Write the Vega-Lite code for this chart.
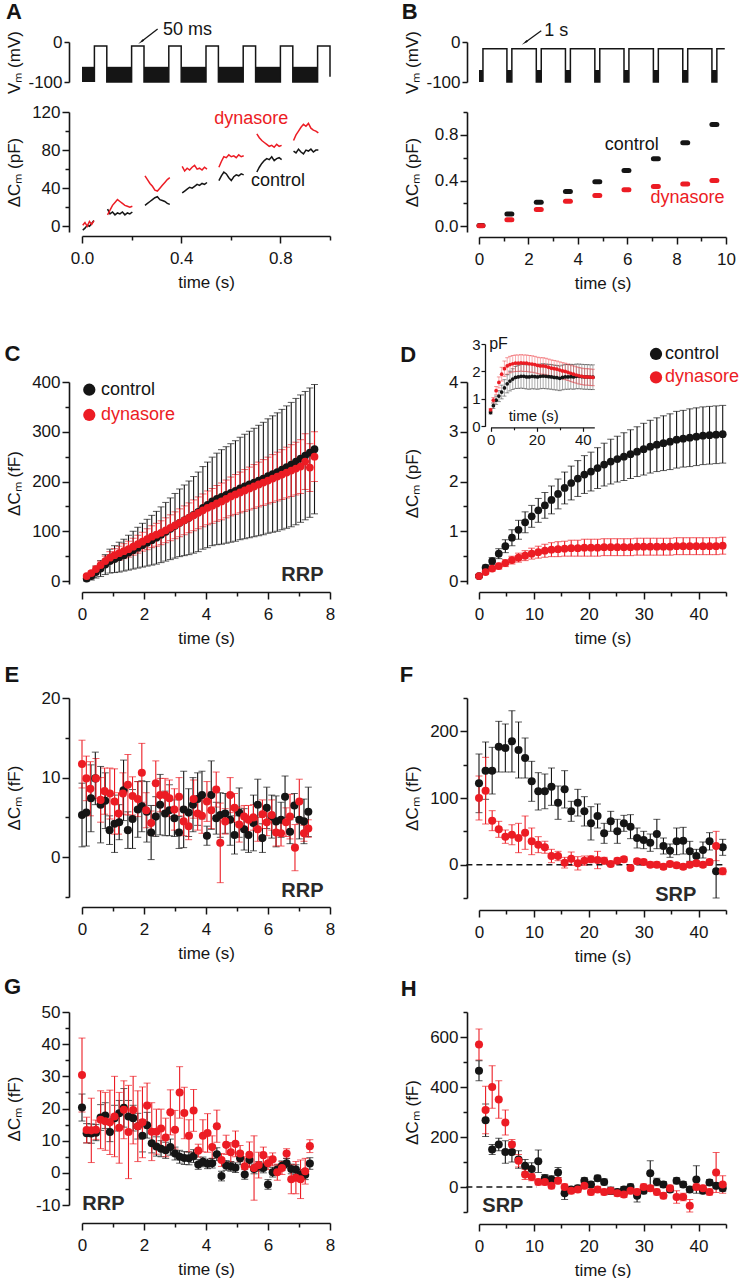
{
"$schema":"https://vega.github.io/schema/vega-lite/v6.json",
"padding":{"left":4,"top":0,"right":0,"bottom":0},
"bounds":"flush",
"align":"each",
"columns":2,
"spacing":{"row":114,"column":149},
"config":{
 "view":{"stroke":null},
 "font":"Liberation Sans",
 "text":{"font":"Liberation Sans","color":"#151515"},
 "axis":{"domainColor":"#151515","domainWidth":1.6,"tickColor":"#151515","tickWidth":1.5,"labelFont":"Liberation Sans","labelFontSize":17,"labelColor":"#151515","labelPadding":2,"titleFont":"Liberation Sans","titleFontSize":17,"titleFontWeight":"normal","titleColor":"#151515","grid":false,"labelOverlap":false,"labelFlush":false,"labelBound":false},
 "axisX":{"labelPadding":7,"titleY":46,"titleBaseline":"middle","labelOverlap":false},
 "axisY":{"titleX":-55,"titleBaseline":"middle","labelOverlap":false}
},
"datasets":{
 "vAr":[{"t0":0,"t1":0.05,"v0":-62,"v1":-100},{"t0":0.1,"t1":0.2,"v0":-62,"v1":-100},{"t0":0.25,"t1":0.35,"v0":-62,"v1":-100},{"t0":0.4,"t1":0.5,"v0":-62,"v1":-100},{"t0":0.55,"t1":0.65,"v0":-62,"v1":-100},{"t0":0.7,"t1":0.8,"v0":-62,"v1":-100},{"t0":0.85,"t1":0.95,"v0":-62,"v1":-100}],
 "vAl":[{"i":0,"t":0.05,"v":-100},{"i":1,"t":0.05,"v":-10},{"i":2,"t":0.1,"v":-10},{"i":3,"t":0.1,"v":-100},{"i":4,"t":0.2,"v":-100},{"i":5,"t":0.2,"v":-10},{"i":6,"t":0.25,"v":-10},{"i":7,"t":0.25,"v":-100},{"i":8,"t":0.35,"v":-100},{"i":9,"t":0.35,"v":-10},{"i":10,"t":0.4,"v":-10},{"i":11,"t":0.4,"v":-100},{"i":12,"t":0.5,"v":-100},{"i":13,"t":0.5,"v":-10},{"i":14,"t":0.55,"v":-10},{"i":15,"t":0.55,"v":-100},{"i":16,"t":0.65,"v":-100},{"i":17,"t":0.65,"v":-10},{"i":18,"t":0.7,"v":-10},{"i":19,"t":0.7,"v":-100},{"i":20,"t":0.8,"v":-100},{"i":21,"t":0.8,"v":-10},{"i":22,"t":0.85,"v":-10},{"i":23,"t":0.85,"v":-100},{"i":24,"t":0.95,"v":-100},{"i":25,"t":0.95,"v":-10},{"i":26,"t":1.0,"v":-10},{"i":27,"t":1.0,"v":-87}],
 "vBr":[{"t0":0,"t1":0.16,"v0":-70,"v1":-100},{"t0":1.13,"t1":1.33,"v0":-70,"v1":-100},{"t0":2.32,"t1":2.52,"v0":-70,"v1":-100},{"t0":3.5,"t1":3.7,"v0":-70,"v1":-100},{"t0":4.69,"t1":4.89,"v0":-70,"v1":-100},{"t0":5.87,"t1":6.07,"v0":-70,"v1":-100},{"t0":7.06,"t1":7.26,"v0":-70,"v1":-100},{"t0":8.25,"t1":8.45,"v0":-70,"v1":-100},{"t0":9.43,"t1":9.63,"v0":-70,"v1":-100}],
 "vBl":[{"i":0,"t":0.16,"v":-100},{"i":1,"t":0.16,"v":-17},{"i":2,"t":1.13,"v":-17},{"i":3,"t":1.13,"v":-100},{"i":4,"t":1.33,"v":-100},{"i":5,"t":1.33,"v":-17},{"i":6,"t":2.32,"v":-17},{"i":7,"t":2.32,"v":-100},{"i":8,"t":2.52,"v":-100},{"i":9,"t":2.52,"v":-17},{"i":10,"t":3.5,"v":-17},{"i":11,"t":3.5,"v":-100},{"i":12,"t":3.7,"v":-100},{"i":13,"t":3.7,"v":-17},{"i":14,"t":4.69,"v":-17},{"i":15,"t":4.69,"v":-100},{"i":16,"t":4.89,"v":-100},{"i":17,"t":4.89,"v":-17},{"i":18,"t":5.87,"v":-17},{"i":19,"t":5.87,"v":-100},{"i":20,"t":6.07,"v":-100},{"i":21,"t":6.07,"v":-17},{"i":22,"t":7.06,"v":-17},{"i":23,"t":7.06,"v":-100},{"i":24,"t":7.26,"v":-100},{"i":25,"t":7.26,"v":-17},{"i":26,"t":8.25,"v":-17},{"i":27,"t":8.25,"v":-100},{"i":28,"t":8.45,"v":-100},{"i":29,"t":8.45,"v":-17},{"i":30,"t":9.43,"v":-17},{"i":31,"t":9.43,"v":-100},{"i":32,"t":9.63,"v":-100},{"i":33,"t":9.63,"v":-17},{"i":34,"t":9.95,"v":-17}],
 "Acap":[
  {"g":"control","s":"c0","t":0.003,"v":-4},{"g":"control","s":"c0","t":0.012,"v":-2},{"g":"control","s":"c0","t":0.021,"v":1},{"g":"control","s":"c0","t":0.03,"v":0},{"g":"control","s":"c0","t":0.039,"v":3},{"g":"control","s":"c0","t":0.048,"v":6},
  {"g":"control","s":"c1","t":0.103,"v":18},{"g":"control","s":"c1","t":0.113,"v":13},{"g":"control","s":"c1","t":0.123,"v":15},{"g":"control","s":"c1","t":0.133,"v":12},{"g":"control","s":"c1","t":0.143,"v":14},{"g":"control","s":"c1","t":0.153,"v":13},{"g":"control","s":"c1","t":0.163,"v":15},{"g":"control","s":"c1","t":0.173,"v":12},{"g":"control","s":"c1","t":0.183,"v":14},{"g":"control","s":"c1","t":0.193,"v":13},{"g":"control","s":"c1","t":0.203,"v":15},
  {"g":"control","s":"c2","t":0.254,"v":22},{"g":"control","s":"c2","t":0.264,"v":24},{"g":"control","s":"c2","t":0.274,"v":26},{"g":"control","s":"c2","t":0.284,"v":28},{"g":"control","s":"c2","t":0.294,"v":30},{"g":"control","s":"c2","t":0.304,"v":31},{"g":"control","s":"c2","t":0.314,"v":28},{"g":"control","s":"c2","t":0.324,"v":27},{"g":"control","s":"c2","t":0.334,"v":26},{"g":"control","s":"c2","t":0.344,"v":24},{"g":"control","s":"c2","t":0.354,"v":23},
  {"g":"control","s":"c3","t":0.404,"v":35},{"g":"control","s":"c3","t":0.414,"v":37},{"g":"control","s":"c3","t":0.424,"v":39},{"g":"control","s":"c3","t":0.434,"v":41},{"g":"control","s":"c3","t":0.444,"v":40},{"g":"control","s":"c3","t":0.454,"v":42},{"g":"control","s":"c3","t":0.464,"v":44},{"g":"control","s":"c3","t":0.474,"v":43},{"g":"control","s":"c3","t":0.484,"v":45},{"g":"control","s":"c3","t":0.494,"v":44},{"g":"control","s":"c3","t":0.504,"v":46},
  {"g":"control","s":"c4","t":0.552,"v":48},{"g":"control","s":"c4","t":0.562,"v":53},{"g":"control","s":"c4","t":0.572,"v":57},{"g":"control","s":"c4","t":0.582,"v":55},{"g":"control","s":"c4","t":0.592,"v":51},{"g":"control","s":"c4","t":0.602,"v":48},{"g":"control","s":"c4","t":0.612,"v":52},{"g":"control","s":"c4","t":0.622,"v":54},{"g":"control","s":"c4","t":0.632,"v":53},{"g":"control","s":"c4","t":0.642,"v":55},{"g":"control","s":"c4","t":0.652,"v":54},
  {"g":"control","s":"c5","t":0.705,"v":57},{"g":"control","s":"c5","t":0.715,"v":62},{"g":"control","s":"c5","t":0.725,"v":66},{"g":"control","s":"c5","t":0.735,"v":69},{"g":"control","s":"c5","t":0.745,"v":71},{"g":"control","s":"c5","t":0.755,"v":70},{"g":"control","s":"c5","t":0.765,"v":73},{"g":"control","s":"c5","t":0.775,"v":69},{"g":"control","s":"c5","t":0.785,"v":71},{"g":"control","s":"c5","t":0.795,"v":72},{"g":"control","s":"c5","t":0.805,"v":70},
  {"g":"control","s":"c6","t":0.853,"v":79},{"g":"control","s":"c6","t":0.863,"v":77},{"g":"control","s":"c6","t":0.873,"v":81},{"g":"control","s":"c6","t":0.883,"v":78},{"g":"control","s":"c6","t":0.893,"v":76},{"g":"control","s":"c6","t":0.903,"v":80},{"g":"control","s":"c6","t":0.913,"v":79},{"g":"control","s":"c6","t":0.923,"v":81},{"g":"control","s":"c6","t":0.933,"v":78},{"g":"control","s":"c6","t":0.943,"v":80},{"g":"control","s":"c6","t":0.953,"v":80},
  {"g":"dynasore","s":"d0","t":0.003,"v":1},{"g":"dynasore","s":"d0","t":0.012,"v":4},{"g":"dynasore","s":"d0","t":0.021,"v":0},{"g":"dynasore","s":"d0","t":0.03,"v":5},{"g":"dynasore","s":"d0","t":0.039,"v":2},{"g":"dynasore","s":"d0","t":0.048,"v":6},
  {"g":"dynasore","s":"d1","t":0.103,"v":12},{"g":"dynasore","s":"d1","t":0.113,"v":17},{"g":"dynasore","s":"d1","t":0.123,"v":22},{"g":"dynasore","s":"d1","t":0.133,"v":25},{"g":"dynasore","s":"d1","t":0.143,"v":28},{"g":"dynasore","s":"d1","t":0.153,"v":26},{"g":"dynasore","s":"d1","t":0.163,"v":24},{"g":"dynasore","s":"d1","t":0.173,"v":22},{"g":"dynasore","s":"d1","t":0.183,"v":21},{"g":"dynasore","s":"d1","t":0.193,"v":20},{"g":"dynasore","s":"d1","t":0.203,"v":21},
  {"g":"dynasore","s":"d2","t":0.254,"v":53},{"g":"dynasore","s":"d2","t":0.264,"v":49},{"g":"dynasore","s":"d2","t":0.274,"v":45},{"g":"dynasore","s":"d2","t":0.284,"v":42},{"g":"dynasore","s":"d2","t":0.294,"v":38},{"g":"dynasore","s":"d2","t":0.304,"v":37},{"g":"dynasore","s":"d2","t":0.314,"v":40},{"g":"dynasore","s":"d2","t":0.324,"v":43},{"g":"dynasore","s":"d2","t":0.334,"v":46},{"g":"dynasore","s":"d2","t":0.344,"v":49},{"g":"dynasore","s":"d2","t":0.354,"v":51},
  {"g":"dynasore","s":"d3","t":0.404,"v":63},{"g":"dynasore","s":"d3","t":0.414,"v":58},{"g":"dynasore","s":"d3","t":0.424,"v":61},{"g":"dynasore","s":"d3","t":0.434,"v":59},{"g":"dynasore","s":"d3","t":0.444,"v":62},{"g":"dynasore","s":"d3","t":0.454,"v":64},{"g":"dynasore","s":"d3","t":0.464,"v":60},{"g":"dynasore","s":"d3","t":0.474,"v":61},{"g":"dynasore","s":"d3","t":0.484,"v":59},{"g":"dynasore","s":"d3","t":0.494,"v":62},{"g":"dynasore","s":"d3","t":0.504,"v":60},
  {"g":"dynasore","s":"d4","t":0.552,"v":62},{"g":"dynasore","s":"d4","t":0.562,"v":68},{"g":"dynasore","s":"d4","t":0.572,"v":73},{"g":"dynasore","s":"d4","t":0.582,"v":72},{"g":"dynasore","s":"d4","t":0.592,"v":75},{"g":"dynasore","s":"d4","t":0.602,"v":73},{"g":"dynasore","s":"d4","t":0.612,"v":74},{"g":"dynasore","s":"d4","t":0.622,"v":72},{"g":"dynasore","s":"d4","t":0.632,"v":75},{"g":"dynasore","s":"d4","t":0.642,"v":73},{"g":"dynasore","s":"d4","t":0.652,"v":74},
  {"g":"dynasore","s":"d5","t":0.705,"v":97},{"g":"dynasore","s":"d5","t":0.715,"v":93},{"g":"dynasore","s":"d5","t":0.725,"v":90},{"g":"dynasore","s":"d5","t":0.735,"v":88},{"g":"dynasore","s":"d5","t":0.745,"v":86},{"g":"dynasore","s":"d5","t":0.755,"v":84},{"g":"dynasore","s":"d5","t":0.765,"v":85},{"g":"dynasore","s":"d5","t":0.775,"v":83},{"g":"dynasore","s":"d5","t":0.785,"v":86},{"g":"dynasore","s":"d5","t":0.795,"v":84},{"g":"dynasore","s":"d5","t":0.805,"v":85},
  {"g":"dynasore","s":"d6","t":0.853,"v":90},{"g":"dynasore","s":"d6","t":0.863,"v":96},{"g":"dynasore","s":"d6","t":0.873,"v":100},{"g":"dynasore","s":"d6","t":0.883,"v":104},{"g":"dynasore","s":"d6","t":0.893,"v":107},{"g":"dynasore","s":"d6","t":0.903,"v":105},{"g":"dynasore","s":"d6","t":0.913,"v":108},{"g":"dynasore","s":"d6","t":0.923,"v":103},{"g":"dynasore","s":"d6","t":0.933,"v":101},{"g":"dynasore","s":"d6","t":0.943,"v":100},{"g":"dynasore","s":"d6","t":0.953,"v":98}
 ],
 "Bcap":[
  {"g":"control","t":0,"t2":0.16,"v":0.006},{"g":"control","t":1.13,"t2":1.33,"v":0.108},{"g":"control","t":2.32,"t2":2.52,"v":0.21},{"g":"control","t":3.5,"t2":3.7,"v":0.304},{"g":"control","t":4.69,"t2":4.89,"v":0.39},{"g":"control","t":5.87,"t2":6.07,"v":0.488},{"g":"control","t":7.06,"t2":7.26,"v":0.59},{"g":"control","t":8.25,"t2":8.45,"v":0.73},{"g":"control","t":9.43,"t2":9.63,"v":0.89},
  {"g":"dynasore","t":0,"t2":0.16,"v":0.005},{"g":"dynasore","t":1.13,"t2":1.33,"v":0.058},{"g":"dynasore","t":2.32,"t2":2.52,"v":0.146},{"g":"dynasore","t":3.5,"t2":3.7,"v":0.219},{"g":"dynasore","t":4.69,"t2":4.89,"v":0.27},{"g":"dynasore","t":5.87,"t2":6.07,"v":0.32},{"g":"dynasore","t":7.06,"t2":7.26,"v":0.348},{"g":"dynasore","t":8.25,"t2":8.45,"v":0.371},{"g":"dynasore","t":9.43,"t2":9.63,"v":0.4}
 ],
 "C":[
  {"g":"control","t":0.15,"v":5,"e":5},{"g":"control","t":0.3,"v":10,"e":8},{"g":"control","t":0.45,"v":18,"e":12},{"g":"control","t":0.6,"v":25,"e":16},{"g":"control","t":0.75,"v":33,"e":20},{"g":"control","t":0.9,"v":40,"e":24},{"g":"control","t":1.05,"v":44,"e":27},{"g":"control","t":1.2,"v":48,"e":30},{"g":"control","t":1.35,"v":52,"e":32},{"g":"control","t":1.5,"v":57,"e":35},{"g":"control","t":1.65,"v":62,"e":38},{"g":"control","t":1.8,"v":67,"e":41},{"g":"control","t":1.95,"v":72,"e":44},{"g":"control","t":2.1,"v":77,"e":47},{"g":"control","t":2.25,"v":82,"e":50},{"g":"control","t":2.4,"v":87,"e":53},{"g":"control","t":2.55,"v":93,"e":56},{"g":"control","t":2.7,"v":99,"e":59},{"g":"control","t":2.85,"v":105,"e":62},{"g":"control","t":3.0,"v":111,"e":65},{"g":"control","t":3.15,"v":117,"e":68},{"g":"control","t":3.3,"v":122,"e":71},{"g":"control","t":3.45,"v":127,"e":74},{"g":"control","t":3.6,"v":133,"e":77},{"g":"control","t":3.75,"v":139,"e":80},{"g":"control","t":3.9,"v":147,"e":83},{"g":"control","t":4.05,"v":153,"e":86},{"g":"control","t":4.2,"v":160,"e":89},{"g":"control","t":4.35,"v":165,"e":92},{"g":"control","t":4.5,"v":169,"e":95},{"g":"control","t":4.65,"v":173,"e":97},{"g":"control","t":4.8,"v":177,"e":99},{"g":"control","t":4.95,"v":181,"e":101},{"g":"control","t":5.1,"v":186,"e":103},{"g":"control","t":5.25,"v":190,"e":105},{"g":"control","t":5.4,"v":194,"e":107},{"g":"control","t":5.55,"v":198,"e":109},{"g":"control","t":5.7,"v":202,"e":111},{"g":"control","t":5.85,"v":206,"e":113},{"g":"control","t":6.0,"v":211,"e":115},{"g":"control","t":6.15,"v":215,"e":117},{"g":"control","t":6.3,"v":219,"e":119},{"g":"control","t":6.45,"v":224,"e":121},{"g":"control","t":6.6,"v":229,"e":123},{"g":"control","t":6.75,"v":234,"e":125},{"g":"control","t":6.9,"v":240,"e":127},{"g":"control","t":7.05,"v":246,"e":128},{"g":"control","t":7.2,"v":252,"e":129},{"g":"control","t":7.35,"v":258,"e":130},{"g":"control","t":7.5,"v":265,"e":130},
  {"g":"dynasore","t":0.15,"v":10,"e":3},{"g":"dynasore","t":0.3,"v":16,"e":4},{"g":"dynasore","t":0.45,"v":24,"e":6},{"g":"dynasore","t":0.6,"v":32,"e":8},{"g":"dynasore","t":0.75,"v":40,"e":10},{"g":"dynasore","t":0.9,"v":47,"e":12},{"g":"dynasore","t":1.05,"v":52,"e":13},{"g":"dynasore","t":1.2,"v":56,"e":14},{"g":"dynasore","t":1.35,"v":60,"e":15},{"g":"dynasore","t":1.5,"v":64,"e":16},{"g":"dynasore","t":1.65,"v":69,"e":17},{"g":"dynasore","t":1.8,"v":74,"e":18},{"g":"dynasore","t":1.95,"v":79,"e":19},{"g":"dynasore","t":2.1,"v":84,"e":21},{"g":"dynasore","t":2.25,"v":89,"e":22},{"g":"dynasore","t":2.4,"v":93,"e":23},{"g":"dynasore","t":2.55,"v":97,"e":24},{"g":"dynasore","t":2.7,"v":102,"e":25},{"g":"dynasore","t":2.85,"v":107,"e":26},{"g":"dynasore","t":3.0,"v":112,"e":27},{"g":"dynasore","t":3.15,"v":117,"e":28},{"g":"dynasore","t":3.3,"v":122,"e":29},{"g":"dynasore","t":3.45,"v":127,"e":30},{"g":"dynasore","t":3.6,"v":132,"e":31},{"g":"dynasore","t":3.75,"v":137,"e":32},{"g":"dynasore","t":3.9,"v":142,"e":33},{"g":"dynasore","t":4.05,"v":147,"e":34},{"g":"dynasore","t":4.2,"v":151,"e":35},{"g":"dynasore","t":4.35,"v":156,"e":36},{"g":"dynasore","t":4.5,"v":160,"e":37},{"g":"dynasore","t":4.65,"v":165,"e":38},{"g":"dynasore","t":4.8,"v":170,"e":39},{"g":"dynasore","t":4.95,"v":174,"e":40},{"g":"dynasore","t":5.1,"v":178,"e":41},{"g":"dynasore","t":5.25,"v":182,"e":42},{"g":"dynasore","t":5.4,"v":186,"e":43},{"g":"dynasore","t":5.55,"v":190,"e":44},{"g":"dynasore","t":5.7,"v":194,"e":45},{"g":"dynasore","t":5.85,"v":198,"e":46},{"g":"dynasore","t":6.0,"v":202,"e":47},{"g":"dynasore","t":6.15,"v":206,"e":48},{"g":"dynasore","t":6.3,"v":210,"e":49},{"g":"dynasore","t":6.45,"v":214,"e":50},{"g":"dynasore","t":6.6,"v":218,"e":51},{"g":"dynasore","t":6.75,"v":222,"e":52},{"g":"dynasore","t":6.9,"v":226,"e":53},{"g":"dynasore","t":7.05,"v":230,"e":54},{"g":"dynasore","t":7.2,"v":240,"e":56},{"g":"dynasore","t":7.35,"v":228,"e":48},{"g":"dynasore","t":7.5,"v":250,"e":50}
 ],
 "D":[
  {"g":"control","t":0,"v":0.10,"e":0.03},{"g":"control","t":1.2,"v":0.27,"e":0.05},{"g":"control","t":2.4,"v":0.40,"e":0.07},{"g":"control","t":3.6,"v":0.55,"e":0.1},{"g":"control","t":4.8,"v":0.70,"e":0.13},{"g":"control","t":6.0,"v":0.87,"e":0.16},{"g":"control","t":7.2,"v":1.03,"e":0.19},{"g":"control","t":8.4,"v":1.18,"e":0.21},{"g":"control","t":9.6,"v":1.30,"e":0.22},{"g":"control","t":10.8,"v":1.42,"e":0.24},{"g":"control","t":12.0,"v":1.52,"e":0.26},{"g":"control","t":13.2,"v":1.63,"e":0.28},{"g":"control","t":14.4,"v":1.75,"e":0.30},{"g":"control","t":15.6,"v":1.87,"e":0.32},{"g":"control","t":16.8,"v":1.97,"e":0.34},{"g":"control","t":18.0,"v":2.06,"e":0.36},{"g":"control","t":19.2,"v":2.14,"e":0.38},{"g":"control","t":20.4,"v":2.20,"e":0.39},{"g":"control","t":21.6,"v":2.27,"e":0.41},{"g":"control","t":22.8,"v":2.34,"e":0.43},{"g":"control","t":24.0,"v":2.40,"e":0.45},{"g":"control","t":25.2,"v":2.45,"e":0.46},{"g":"control","t":26.4,"v":2.50,"e":0.48},{"g":"control","t":27.6,"v":2.55,"e":0.49},{"g":"control","t":28.8,"v":2.60,"e":0.50},{"g":"control","t":30.0,"v":2.65,"e":0.52},{"g":"control","t":31.2,"v":2.70,"e":0.53},{"g":"control","t":32.4,"v":2.74,"e":0.54},{"g":"control","t":33.6,"v":2.77,"e":0.55},{"g":"control","t":34.8,"v":2.80,"e":0.56},{"g":"control","t":36.0,"v":2.84,"e":0.57},{"g":"control","t":37.2,"v":2.86,"e":0.57},{"g":"control","t":38.4,"v":2.88,"e":0.58},{"g":"control","t":39.6,"v":2.90,"e":0.58},{"g":"control","t":40.8,"v":2.92,"e":0.58},{"g":"control","t":42.0,"v":2.93,"e":0.58},{"g":"control","t":43.2,"v":2.94,"e":0.58},{"g":"control","t":44.4,"v":2.95,"e":0.58},
  {"g":"dynasore","t":0,"v":0.10,"e":0.03},{"g":"dynasore","t":1.2,"v":0.18,"e":0.04},{"g":"dynasore","t":2.4,"v":0.25,"e":0.05},{"g":"dynasore","t":3.6,"v":0.30,"e":0.06},{"g":"dynasore","t":4.8,"v":0.36,"e":0.07},{"g":"dynasore","t":6.0,"v":0.42,"e":0.08},{"g":"dynasore","t":7.2,"v":0.47,"e":0.09},{"g":"dynasore","t":8.4,"v":0.51,"e":0.10},{"g":"dynasore","t":9.6,"v":0.55,"e":0.11},{"g":"dynasore","t":10.8,"v":0.58,"e":0.12},{"g":"dynasore","t":12.0,"v":0.61,"e":0.13},{"g":"dynasore","t":13.2,"v":0.63,"e":0.14},{"g":"dynasore","t":14.4,"v":0.64,"e":0.15},{"g":"dynasore","t":15.6,"v":0.65,"e":0.15},{"g":"dynasore","t":16.8,"v":0.66,"e":0.16},{"g":"dynasore","t":18.0,"v":0.66,"e":0.16},{"g":"dynasore","t":19.2,"v":0.67,"e":0.17},{"g":"dynasore","t":20.4,"v":0.67,"e":0.17},{"g":"dynasore","t":21.6,"v":0.67,"e":0.17},{"g":"dynasore","t":22.8,"v":0.68,"e":0.17},{"g":"dynasore","t":24.0,"v":0.68,"e":0.17},{"g":"dynasore","t":25.2,"v":0.68,"e":0.17},{"g":"dynasore","t":26.4,"v":0.68,"e":0.17},{"g":"dynasore","t":27.6,"v":0.68,"e":0.17},{"g":"dynasore","t":28.8,"v":0.69,"e":0.17},{"g":"dynasore","t":30.0,"v":0.69,"e":0.17},{"g":"dynasore","t":31.2,"v":0.69,"e":0.17},{"g":"dynasore","t":32.4,"v":0.69,"e":0.17},{"g":"dynasore","t":33.6,"v":0.69,"e":0.17},{"g":"dynasore","t":34.8,"v":0.69,"e":0.17},{"g":"dynasore","t":36.0,"v":0.70,"e":0.17},{"g":"dynasore","t":37.2,"v":0.70,"e":0.17},{"g":"dynasore","t":38.4,"v":0.70,"e":0.17},{"g":"dynasore","t":39.6,"v":0.70,"e":0.17},{"g":"dynasore","t":40.8,"v":0.70,"e":0.17},{"g":"dynasore","t":42.0,"v":0.70,"e":0.17},{"g":"dynasore","t":43.2,"v":0.70,"e":0.17},{"g":"dynasore","t":44.4,"v":0.71,"e":0.17}
 ],
 "Di":[
  {"g":"control","t":0,"v":0.50,"e":0.05},{"g":"control","t":1.2,"v":0.75,"e":0.10},{"g":"control","t":2.4,"v":0.95,"e":0.15},{"g":"control","t":3.6,"v":1.10,"e":0.20},{"g":"control","t":4.8,"v":1.25,"e":0.25},{"g":"control","t":6.0,"v":1.40,"e":0.30},{"g":"control","t":7.2,"v":1.55,"e":0.33},{"g":"control","t":8.4,"v":1.65,"e":0.36},{"g":"control","t":9.6,"v":1.72,"e":0.38},{"g":"control","t":10.8,"v":1.78,"e":0.40},{"g":"control","t":12.0,"v":1.80,"e":0.42},{"g":"control","t":13.2,"v":1.82,"e":0.43},{"g":"control","t":14.4,"v":1.82,"e":0.44},{"g":"control","t":15.6,"v":1.80,"e":0.44},{"g":"control","t":16.8,"v":1.80,"e":0.45},{"g":"control","t":18.0,"v":1.82,"e":0.45},{"g":"control","t":19.2,"v":1.81,"e":0.45},{"g":"control","t":20.4,"v":1.80,"e":0.45},{"g":"control","t":21.6,"v":1.82,"e":0.45},{"g":"control","t":22.8,"v":1.83,"e":0.45},{"g":"control","t":24.0,"v":1.82,"e":0.45},{"g":"control","t":25.2,"v":1.81,"e":0.45},{"g":"control","t":26.4,"v":1.80,"e":0.45},{"g":"control","t":27.6,"v":1.78,"e":0.45},{"g":"control","t":28.8,"v":1.77,"e":0.45},{"g":"control","t":30.0,"v":1.75,"e":0.45},{"g":"control","t":31.2,"v":1.78,"e":0.45},{"g":"control","t":32.4,"v":1.80,"e":0.45},{"g":"control","t":33.6,"v":1.80,"e":0.45},{"g":"control","t":34.8,"v":1.81,"e":0.45},{"g":"control","t":36.0,"v":1.80,"e":0.45},{"g":"control","t":37.2,"v":1.82,"e":0.45},{"g":"control","t":38.4,"v":1.82,"e":0.45},{"g":"control","t":39.6,"v":1.81,"e":0.45},{"g":"control","t":40.8,"v":1.80,"e":0.45},{"g":"control","t":42.0,"v":1.80,"e":0.45},{"g":"control","t":43.2,"v":1.79,"e":0.45},{"g":"control","t":44.4,"v":1.79,"e":0.45},
  {"g":"dynasore","t":0,"v":0.60,"e":0.05},{"g":"dynasore","t":1.2,"v":0.95,"e":0.10},{"g":"dynasore","t":2.4,"v":1.30,"e":0.15},{"g":"dynasore","t":3.6,"v":1.60,"e":0.20},{"g":"dynasore","t":4.8,"v":1.90,"e":0.25},{"g":"dynasore","t":6.0,"v":2.10,"e":0.28},{"g":"dynasore","t":7.2,"v":2.20,"e":0.30},{"g":"dynasore","t":8.4,"v":2.25,"e":0.30},{"g":"dynasore","t":9.6,"v":2.28,"e":0.30},{"g":"dynasore","t":10.8,"v":2.30,"e":0.30},{"g":"dynasore","t":12.0,"v":2.30,"e":0.30},{"g":"dynasore","t":13.2,"v":2.31,"e":0.30},{"g":"dynasore","t":14.4,"v":2.30,"e":0.30},{"g":"dynasore","t":15.6,"v":2.30,"e":0.30},{"g":"dynasore","t":16.8,"v":2.28,"e":0.30},{"g":"dynasore","t":18.0,"v":2.27,"e":0.30},{"g":"dynasore","t":19.2,"v":2.25,"e":0.30},{"g":"dynasore","t":20.4,"v":2.22,"e":0.30},{"g":"dynasore","t":21.6,"v":2.20,"e":0.30},{"g":"dynasore","t":22.8,"v":2.20,"e":0.30},{"g":"dynasore","t":24.0,"v":2.18,"e":0.30},{"g":"dynasore","t":25.2,"v":2.15,"e":0.30},{"g":"dynasore","t":26.4,"v":2.12,"e":0.30},{"g":"dynasore","t":27.6,"v":2.10,"e":0.30},{"g":"dynasore","t":28.8,"v":2.08,"e":0.30},{"g":"dynasore","t":30.0,"v":2.05,"e":0.30},{"g":"dynasore","t":31.2,"v":2.02,"e":0.30},{"g":"dynasore","t":32.4,"v":2.00,"e":0.30},{"g":"dynasore","t":33.6,"v":1.97,"e":0.30},{"g":"dynasore","t":34.8,"v":1.93,"e":0.30},{"g":"dynasore","t":36.0,"v":1.90,"e":0.30},{"g":"dynasore","t":37.2,"v":1.87,"e":0.30},{"g":"dynasore","t":38.4,"v":1.84,"e":0.30},{"g":"dynasore","t":39.6,"v":1.82,"e":0.30},{"g":"dynasore","t":40.8,"v":1.80,"e":0.30},{"g":"dynasore","t":42.0,"v":1.80,"e":0.30},{"g":"dynasore","t":43.2,"v":1.79,"e":0.30},{"g":"dynasore","t":44.4,"v":1.78,"e":0.30}
 ],
 "E":[
  {"g":"control","t":0,"v":5.3,"e":4.0},{"g":"control","t":0.14,"v":5.6,"e":4.2},{"g":"control","t":0.29,"v":7.4,"e":4.2},{"g":"control","t":0.43,"v":9.9,"e":3.3},{"g":"control","t":0.6,"v":6.6,"e":4.8},{"g":"control","t":0.75,"v":7.1,"e":3.5},{"g":"control","t":0.89,"v":3.4,"e":1.8},{"g":"control","t":1.05,"v":4.2,"e":3.6},{"g":"control","t":1.2,"v":4.4,"e":2.2},{"g":"control","t":1.34,"v":8.4,"e":3.8},{"g":"control","t":1.48,"v":3.4,"e":2.3},{"g":"control","t":1.63,"v":4.8,"e":3.7},{"g":"control","t":1.8,"v":6.0,"e":3.5},{"g":"control","t":1.93,"v":6.4,"e":3.2},{"g":"control","t":2.09,"v":5.7,"e":3.8},{"g":"control","t":2.23,"v":3.1,"e":3.4},{"g":"control","t":2.38,"v":5.1,"e":2.5},{"g":"control","t":2.52,"v":6.6,"e":3.8},{"g":"control","t":2.68,"v":5.5,"e":2.8},{"g":"control","t":2.82,"v":5.9,"e":3.2},{"g":"control","t":2.98,"v":4.9,"e":2.3},{"g":"control","t":3.13,"v":3.1,"e":2.0},{"g":"control","t":3.28,"v":6.0,"e":4.8},{"g":"control","t":3.44,"v":5.6,"e":3.0},{"g":"control","t":3.58,"v":6.6,"e":3.4},{"g":"control","t":3.73,"v":7.3,"e":3.3},{"g":"control","t":3.87,"v":7.8,"e":3.0},{"g":"control","t":4.03,"v":2.7,"e":1.2},{"g":"control","t":4.17,"v":7.8,"e":4.3},{"g":"control","t":4.33,"v":4.9,"e":2.0},{"g":"control","t":4.46,"v":5.3,"e":2.8},{"g":"control","t":4.62,"v":5.5,"e":2.5},{"g":"control","t":4.78,"v":4.7,"e":3.2},{"g":"control","t":4.92,"v":2.8,"e":2.4},{"g":"control","t":5.07,"v":5.6,"e":3.1},{"g":"control","t":5.23,"v":3.5,"e":2.6},{"g":"control","t":5.37,"v":2.8,"e":2.2},{"g":"control","t":5.53,"v":4.3,"e":3.5},{"g":"control","t":5.67,"v":6.6,"e":3.2},{"g":"control","t":5.82,"v":2.4,"e":1.8},{"g":"control","t":5.96,"v":6.2,"e":2.6},{"g":"control","t":6.12,"v":5.1,"e":2.7},{"g":"control","t":6.26,"v":4.5,"e":3.2},{"g":"control","t":6.42,"v":4.7,"e":2.2},{"g":"control","t":6.55,"v":7.6,"e":2.6},{"g":"control","t":6.71,"v":3.2,"e":1.5},{"g":"control","t":6.85,"v":6.5,"e":1.5},{"g":"control","t":7.01,"v":4.7,"e":2.4},{"g":"control","t":7.16,"v":4.5,"e":2.8},{"g":"control","t":7.3,"v":5.7,"e":3.1},
  {"g":"dynasore","t":0,"v":11.7,"e":3.0},{"g":"dynasore","t":0.14,"v":9.9,"e":2.8},{"g":"dynasore","t":0.27,"v":8.6,"e":3.4},{"g":"dynasore","t":0.45,"v":9.9,"e":2.5},{"g":"dynasore","t":0.6,"v":7.2,"e":2.8},{"g":"dynasore","t":0.73,"v":8.3,"e":2.9},{"g":"dynasore","t":0.9,"v":8.0,"e":3.2},{"g":"dynasore","t":1.05,"v":7.0,"e":4.1},{"g":"dynasore","t":1.18,"v":5.5,"e":2.6},{"g":"dynasore","t":1.32,"v":8.0,"e":2.6},{"g":"dynasore","t":1.48,"v":9.1,"e":3.8},{"g":"dynasore","t":1.63,"v":7.7,"e":2.4},{"g":"dynasore","t":1.8,"v":7.3,"e":2.2},{"g":"dynasore","t":1.93,"v":10.6,"e":3.7},{"g":"dynasore","t":2.07,"v":5.9,"e":2.2},{"g":"dynasore","t":2.23,"v":4.3,"e":1.5},{"g":"dynasore","t":2.38,"v":9.3,"e":2.8},{"g":"dynasore","t":2.52,"v":7.8,"e":2.1},{"g":"dynasore","t":2.68,"v":7.8,"e":2.1},{"g":"dynasore","t":2.82,"v":7.4,"e":2.3},{"g":"dynasore","t":2.98,"v":6.0,"e":2.6},{"g":"dynasore","t":3.13,"v":7.6,"e":2.4},{"g":"dynasore","t":3.28,"v":4.5,"e":1.8},{"g":"dynasore","t":3.44,"v":3.9,"e":1.7},{"g":"dynasore","t":3.6,"v":7.3,"e":2.4},{"g":"dynasore","t":3.73,"v":5.5,"e":2.1},{"g":"dynasore","t":3.87,"v":5.2,"e":2.2},{"g":"dynasore","t":4.03,"v":7.0,"e":2.5},{"g":"dynasore","t":4.17,"v":5.9,"e":2.3},{"g":"dynasore","t":4.33,"v":8.5,"e":2.2},{"g":"dynasore","t":4.46,"v":1.8,"e":5.0},{"g":"dynasore","t":4.62,"v":4.5,"e":1.6},{"g":"dynasore","t":4.78,"v":7.8,"e":2.2},{"g":"dynasore","t":4.92,"v":6.2,"e":1.8},{"g":"dynasore","t":5.07,"v":4.1,"e":2.2},{"g":"dynasore","t":5.23,"v":5.1,"e":1.4},{"g":"dynasore","t":5.37,"v":4.7,"e":1.8},{"g":"dynasore","t":5.53,"v":5.0,"e":1.6},{"g":"dynasore","t":5.67,"v":3.5,"e":1.5},{"g":"dynasore","t":5.82,"v":5.4,"e":1.8},{"g":"dynasore","t":5.96,"v":4.4,"e":1.7},{"g":"dynasore","t":6.12,"v":5.3,"e":1.9},{"g":"dynasore","t":6.26,"v":3.1,"e":1.7},{"g":"dynasore","t":6.42,"v":3.0,"e":1.6},{"g":"dynasore","t":6.58,"v":4.4,"e":1.8},{"g":"dynasore","t":6.71,"v":5.1,"e":2.8},{"g":"dynasore","t":6.87,"v":1.2,"e":2.9},{"g":"dynasore","t":7.01,"v":7.0,"e":2.8},{"g":"dynasore","t":7.16,"v":3.0,"e":1.0},{"g":"dynasore","t":7.3,"v":3.6,"e":1.1}
 ],
 "F":[
  {"g":"control","t":0,"v":122,"e":44},{"g":"control","t":1.2,"v":141,"e":43},{"g":"control","t":2.4,"v":141,"e":35},{"g":"control","t":3.6,"v":177,"e":38},{"g":"control","t":4.8,"v":175,"e":36},{"g":"control","t":6.0,"v":185,"e":46},{"g":"control","t":7.2,"v":172,"e":42},{"g":"control","t":8.4,"v":160,"e":30},{"g":"control","t":9.6,"v":125,"e":30},{"g":"control","t":10.8,"v":110,"e":28},{"g":"control","t":12.0,"v":110,"e":26},{"g":"control","t":13.2,"v":117,"e":28},{"g":"control","t":14.4,"v":93,"e":25},{"g":"control","t":15.6,"v":113,"e":28},{"g":"control","t":16.8,"v":80,"e":15},{"g":"control","t":18.0,"v":93,"e":20},{"g":"control","t":19.2,"v":80,"e":22},{"g":"control","t":20.4,"v":62,"e":25},{"g":"control","t":21.6,"v":73,"e":18},{"g":"control","t":22.8,"v":47,"e":15},{"g":"control","t":24.0,"v":65,"e":15},{"g":"control","t":25.2,"v":50,"e":18},{"g":"control","t":26.4,"v":62,"e":12},{"g":"control","t":27.6,"v":57,"e":18},{"g":"control","t":28.8,"v":40,"e":15},{"g":"control","t":30.0,"v":37,"e":13},{"g":"control","t":31.2,"v":33,"e":13},{"g":"control","t":32.4,"v":46,"e":22},{"g":"control","t":33.6,"v":28,"e":12},{"g":"control","t":34.8,"v":21,"e":10},{"g":"control","t":36.0,"v":35,"e":20},{"g":"control","t":37.2,"v":36,"e":20},{"g":"control","t":38.4,"v":20,"e":15},{"g":"control","t":39.6,"v":13,"e":10},{"g":"control","t":40.8,"v":22,"e":12},{"g":"control","t":42.0,"v":35,"e":13},{"g":"control","t":43.2,"v":-10,"e":40},{"g":"control","t":44.4,"v":26,"e":12},
  {"g":"dynasore","t":0,"v":100,"e":33},{"g":"dynasore","t":1.2,"v":111,"e":50},{"g":"dynasore","t":2.4,"v":66,"e":15},{"g":"dynasore","t":3.6,"v":53,"e":12},{"g":"dynasore","t":4.8,"v":42,"e":10},{"g":"dynasore","t":6.0,"v":45,"e":15},{"g":"dynasore","t":7.2,"v":40,"e":22},{"g":"dynasore","t":8.4,"v":48,"e":25},{"g":"dynasore","t":9.6,"v":35,"e":20},{"g":"dynasore","t":10.8,"v":30,"e":12},{"g":"dynasore","t":12.0,"v":26,"e":9},{"g":"dynasore","t":13.2,"v":13,"e":10},{"g":"dynasore","t":14.4,"v":13,"e":7},{"g":"dynasore","t":15.6,"v":3,"e":8},{"g":"dynasore","t":16.8,"v":9,"e":10},{"g":"dynasore","t":18.0,"v":2,"e":10},{"g":"dynasore","t":19.2,"v":6,"e":7},{"g":"dynasore","t":20.4,"v":8,"e":5},{"g":"dynasore","t":21.6,"v":7,"e":13},{"g":"dynasore","t":22.8,"v":6,"e":5},{"g":"dynasore","t":24.0,"v":1,"e":4},{"g":"dynasore","t":25.2,"v":6,"e":4},{"g":"dynasore","t":26.4,"v":8,"e":4},{"g":"dynasore","t":27.6,"v":-5,"e":4},{"g":"dynasore","t":28.8,"v":5,"e":4},{"g":"dynasore","t":30.0,"v":4,"e":4},{"g":"dynasore","t":31.2,"v":0,"e":4},{"g":"dynasore","t":32.4,"v":0,"e":4},{"g":"dynasore","t":33.6,"v":-3,"e":4},{"g":"dynasore","t":34.8,"v":1,"e":4},{"g":"dynasore","t":36.0,"v":-1,"e":4},{"g":"dynasore","t":37.2,"v":-3,"e":4},{"g":"dynasore","t":38.4,"v":0,"e":4},{"g":"dynasore","t":39.6,"v":2,"e":4},{"g":"dynasore","t":40.8,"v":0,"e":4},{"g":"dynasore","t":42.0,"v":4,"e":4},{"g":"dynasore","t":43.2,"v":28,"e":22},{"g":"dynasore","t":44.4,"v":-10,"e":5}
 ],
 "G":[
  {"g":"control","t":0,"v":20.3,"e":4.2},{"g":"control","t":0.15,"v":12.3,"e":3},{"g":"control","t":0.3,"v":12.2,"e":3},{"g":"control","t":0.45,"v":12.5,"e":2.5},{"g":"control","t":0.6,"v":17.2,"e":4},{"g":"control","t":0.75,"v":17.8,"e":4},{"g":"control","t":0.9,"v":12.7,"e":3},{"g":"control","t":1.05,"v":17.0,"e":4},{"g":"control","t":1.2,"v":18.5,"e":4},{"g":"control","t":1.35,"v":20.2,"e":6},{"g":"control","t":1.5,"v":17.5,"e":5},{"g":"control","t":1.65,"v":17.0,"e":4},{"g":"control","t":1.8,"v":14.5,"e":4},{"g":"control","t":1.95,"v":11.5,"e":5},{"g":"control","t":2.1,"v":14.8,"e":4},{"g":"control","t":2.25,"v":9.2,"e":3},{"g":"control","t":2.4,"v":8.2,"e":3},{"g":"control","t":2.55,"v":7.5,"e":2.5},{"g":"control","t":2.7,"v":7.0,"e":2.5},{"g":"control","t":2.85,"v":8.0,"e":2.5},{"g":"control","t":3.0,"v":6.0,"e":2},{"g":"control","t":3.15,"v":5.0,"e":2},{"g":"control","t":3.3,"v":4.6,"e":2},{"g":"control","t":3.45,"v":4.5,"e":2},{"g":"control","t":3.6,"v":5.2,"e":2},{"g":"control","t":3.75,"v":2.6,"e":1.5},{"g":"control","t":3.9,"v":3.4,"e":1.5},{"g":"control","t":4.05,"v":2.8,"e":1.5},{"g":"control","t":4.2,"v":3.0,"e":1.5},{"g":"control","t":4.35,"v":5.8,"e":2},{"g":"control","t":4.5,"v":-1.0,"e":1.5},{"g":"control","t":4.65,"v":2.3,"e":1.5},{"g":"control","t":4.8,"v":2.0,"e":1.5},{"g":"control","t":4.95,"v":1.6,"e":1.5},{"g":"control","t":5.1,"v":4.5,"e":2},{"g":"control","t":5.25,"v":-0.5,"e":1.5},{"g":"control","t":5.4,"v":4.0,"e":2},{"g":"control","t":5.55,"v":1.2,"e":1.5},{"g":"control","t":5.7,"v":2.0,"e":1.5},{"g":"control","t":5.85,"v":1.5,"e":1.5},{"g":"control","t":6.0,"v":-3.6,"e":1.5},{"g":"control","t":6.15,"v":0.2,"e":1.5},{"g":"control","t":6.3,"v":1.0,"e":1.5},{"g":"control","t":6.45,"v":2.2,"e":1.5},{"g":"control","t":6.6,"v":3.0,"e":1.5},{"g":"control","t":6.75,"v":1.2,"e":1.5},{"g":"control","t":6.9,"v":1.0,"e":1.5},{"g":"control","t":7.05,"v":-0.5,"e":1.5},{"g":"control","t":7.2,"v":-0.6,"e":1.5},{"g":"control","t":7.35,"v":2.9,"e":1.8},
  {"g":"dynasore","t":0,"v":30.4,"e":11.5},{"g":"dynasore","t":0.15,"v":13.3,"e":4},{"g":"dynasore","t":0.3,"v":13.2,"e":10},{"g":"dynasore","t":0.45,"v":13.4,"e":3},{"g":"dynasore","t":0.6,"v":16.5,"e":9},{"g":"dynasore","t":0.75,"v":16.0,"e":9},{"g":"dynasore","t":0.9,"v":15.7,"e":10},{"g":"dynasore","t":1.05,"v":17.5,"e":12.5},{"g":"dynasore","t":1.2,"v":14.0,"e":11},{"g":"dynasore","t":1.35,"v":19.6,"e":9},{"g":"dynasore","t":1.5,"v":12.7,"e":14.5},{"g":"dynasore","t":1.65,"v":19.5,"e":10.5},{"g":"dynasore","t":1.8,"v":14.5,"e":11},{"g":"dynasore","t":1.95,"v":15.7,"e":11},{"g":"dynasore","t":2.1,"v":20.9,"e":7},{"g":"dynasore","t":2.25,"v":12.8,"e":9},{"g":"dynasore","t":2.4,"v":12.8,"e":7},{"g":"dynasore","t":2.55,"v":13.8,"e":6},{"g":"dynasore","t":2.7,"v":11.0,"e":6},{"g":"dynasore","t":2.85,"v":18.8,"e":7},{"g":"dynasore","t":3.0,"v":13.4,"e":6},{"g":"dynasore","t":3.15,"v":25.0,"e":8},{"g":"dynasore","t":3.3,"v":18.6,"e":8},{"g":"dynasore","t":3.45,"v":11.5,"e":5},{"g":"dynasore","t":3.6,"v":19.4,"e":6.5},{"g":"dynasore","t":3.75,"v":6.9,"e":2},{"g":"dynasore","t":3.9,"v":11.5,"e":5},{"g":"dynasore","t":4.05,"v":12.4,"e":6},{"g":"dynasore","t":4.2,"v":8.0,"e":3.5},{"g":"dynasore","t":4.35,"v":14.5,"e":5},{"g":"dynasore","t":4.5,"v":4.0,"e":2},{"g":"dynasore","t":4.65,"v":8.7,"e":3},{"g":"dynasore","t":4.8,"v":6.4,"e":3},{"g":"dynasore","t":4.95,"v":9.0,"e":4},{"g":"dynasore","t":5.1,"v":6.0,"e":2.5},{"g":"dynasore","t":5.25,"v":2.0,"e":3},{"g":"dynasore","t":5.4,"v":5.6,"e":4},{"g":"dynasore","t":5.55,"v":1.5,"e":10},{"g":"dynasore","t":5.7,"v":2.4,"e":4},{"g":"dynasore","t":5.85,"v":5.5,"e":2.5},{"g":"dynasore","t":6.0,"v":3.0,"e":2},{"g":"dynasore","t":6.15,"v":4.2,"e":2},{"g":"dynasore","t":6.3,"v":0.2,"e":2.5},{"g":"dynasore","t":6.45,"v":1.5,"e":2},{"g":"dynasore","t":6.6,"v":6.0,"e":1.5},{"g":"dynasore","t":6.75,"v":-2.0,"e":4.5},{"g":"dynasore","t":6.9,"v":-1.5,"e":5},{"g":"dynasore","t":7.05,"v":-2.0,"e":6},{"g":"dynasore","t":7.2,"v":0.5,"e":4},{"g":"dynasore","t":7.35,"v":8.3,"e":2}
 ],
 "H":[
  {"g":"control","t":0,"v":465,"e":40},{"g":"control","t":1.2,"v":267,"e":65},{"g":"control","t":2.4,"v":150,"e":20},{"g":"control","t":3.6,"v":170,"e":25},{"g":"control","t":4.8,"v":140,"e":45},{"g":"control","t":6.0,"v":140,"e":40},{"g":"control","t":7.2,"v":110,"e":35},{"g":"control","t":8.4,"v":85,"e":25},{"g":"control","t":9.6,"v":72,"e":25},{"g":"control","t":10.8,"v":103,"e":45},{"g":"control","t":12.0,"v":35,"e":15},{"g":"control","t":13.2,"v":30,"e":15},{"g":"control","t":14.4,"v":58,"e":20},{"g":"control","t":15.6,"v":-25,"e":25},{"g":"control","t":16.8,"v":-10,"e":12},{"g":"control","t":18.0,"v":-5,"e":12},{"g":"control","t":19.2,"v":25,"e":12},{"g":"control","t":20.4,"v":10,"e":12},{"g":"control","t":21.6,"v":35,"e":12},{"g":"control","t":22.8,"v":20,"e":12},{"g":"control","t":24.0,"v":-15,"e":15},{"g":"control","t":25.2,"v":-20,"e":12},{"g":"control","t":26.4,"v":-10,"e":12},{"g":"control","t":27.6,"v":0,"e":12},{"g":"control","t":28.8,"v":-35,"e":25},{"g":"control","t":30.0,"v":-15,"e":12},{"g":"control","t":31.2,"v":55,"e":50},{"g":"control","t":32.4,"v":20,"e":15},{"g":"control","t":33.6,"v":10,"e":12},{"g":"control","t":34.8,"v":-10,"e":12},{"g":"control","t":36.0,"v":25,"e":12},{"g":"control","t":37.2,"v":10,"e":12},{"g":"control","t":38.4,"v":-10,"e":12},{"g":"control","t":39.6,"v":30,"e":55},{"g":"control","t":40.8,"v":-15,"e":12},{"g":"control","t":42.0,"v":18,"e":12},{"g":"control","t":43.2,"v":5,"e":12},{"g":"control","t":44.4,"v":-5,"e":12},
  {"g":"dynasore","t":0,"v":570,"e":62},{"g":"dynasore","t":1.2,"v":308,"e":95},{"g":"dynasore","t":2.4,"v":400,"e":85},{"g":"dynasore","t":3.6,"v":350,"e":75},{"g":"dynasore","t":4.8,"v":258,"e":50},{"g":"dynasore","t":6.0,"v":170,"e":20},{"g":"dynasore","t":7.2,"v":105,"e":25},{"g":"dynasore","t":8.4,"v":50,"e":20},{"g":"dynasore","t":9.6,"v":40,"e":15},{"g":"dynasore","t":10.8,"v":20,"e":12},{"g":"dynasore","t":12.0,"v":20,"e":12},{"g":"dynasore","t":13.2,"v":5,"e":12},{"g":"dynasore","t":14.4,"v":25,"e":12},{"g":"dynasore","t":15.6,"v":0,"e":12},{"g":"dynasore","t":16.8,"v":-15,"e":12},{"g":"dynasore","t":18.0,"v":-10,"e":12},{"g":"dynasore","t":19.2,"v":5,"e":12},{"g":"dynasore","t":20.4,"v":-20,"e":12},{"g":"dynasore","t":21.6,"v":-10,"e":12},{"g":"dynasore","t":22.8,"v":-20,"e":12},{"g":"dynasore","t":24.0,"v":-15,"e":12},{"g":"dynasore","t":25.2,"v":-25,"e":12},{"g":"dynasore","t":26.4,"v":-30,"e":12},{"g":"dynasore","t":27.6,"v":-15,"e":12},{"g":"dynasore","t":28.8,"v":-20,"e":12},{"g":"dynasore","t":30.0,"v":0,"e":12},{"g":"dynasore","t":31.2,"v":-5,"e":12},{"g":"dynasore","t":32.4,"v":-20,"e":12},{"g":"dynasore","t":33.6,"v":-35,"e":12},{"g":"dynasore","t":34.8,"v":-5,"e":12},{"g":"dynasore","t":36.0,"v":-40,"e":25},{"g":"dynasore","t":37.2,"v":-40,"e":15},{"g":"dynasore","t":38.4,"v":-75,"e":25},{"g":"dynasore","t":39.6,"v":0,"e":12},{"g":"dynasore","t":40.8,"v":-5,"e":12},{"g":"dynasore","t":42.0,"v":-20,"e":12},{"g":"dynasore","t":43.2,"v":58,"e":80},{"g":"dynasore","t":44.4,"v":10,"e":35}
 ]
},
"concat":[
 {"width":248,"height":226,
  "resolve":{"scale":{"y":"independent"},"axis":{"y":"independent"}},
  "layer":[
   {"layer":[
    {"data":{"name":"vAr"},"mark":{"type":"rect","color":"#151515"},"encoding":{
     "x":{"field":"t0","type":"quantitative","scale":{"domain":[0,1],"nice":false,"zero":false}},"x2":{"field":"t1"},
     "y":{"field":"v0","type":"quantitative","scale":{"domain":[-100,0],"range":[40,0],"nice":false,"zero":false},"axis":{"orient":"left","values":[-100,0],"tickCount":100,"format":"d","labelOverlap":false,"labelExpr":"replace(datum.label,'−','-')","offset":13,"title":"Vₘ (mV)"}},"y2":{"field":"v1"}}},
    {"data":{"name":"vAl"},"mark":{"type":"line","color":"#151515","strokeWidth":1.5},"encoding":{
     "x":{"field":"t","type":"quantitative","scale":{"domain":[0,1],"nice":false,"zero":false}},
     "y":{"field":"v","type":"quantitative","scale":{"domain":[-100,0],"range":[40,0],"nice":false,"zero":false}},"order":{"field":"i"}}},
    {"data":{"values":[{"t":0.305,"v":32.5,"t2":0.241,"v2":2}]},"mark":{"type":"rule","color":"#151515","strokeWidth":1.3},"encoding":{
     "x":{"field":"t","type":"quantitative","scale":{"domain":[0,1],"nice":false,"zero":false}},"x2":{"field":"t2"},
     "y":{"field":"v","type":"quantitative","scale":{"domain":[-100,0],"range":[40,0],"nice":false,"zero":false}},"y2":{"field":"v2"}}},
    {"data":{"values":[{"t":0.241,"v":2}]},"mark":{"type":"point","shape":"wedge","angle":233,"size":60,"filled":true,"opacity":1,"color":"#151515"},"encoding":{
     "x":{"field":"t","type":"quantitative","scale":{"domain":[0,1],"nice":false,"zero":false}},
     "y":{"field":"v","type":"quantitative","scale":{"domain":[-100,0],"range":[40,0],"nice":false,"zero":false}}}},
    {"data":{"values":[{"t":0.327,"v":29,"s":"50 ms"}]},"mark":{"type":"text","align":"left","baseline":"middle","fontSize":18},"encoding":{
     "x":{"field":"t","type":"quantitative","scale":{"domain":[0,1],"nice":false,"zero":false}},
     "y":{"field":"v","type":"quantitative","scale":{"domain":[-100,0],"range":[40,0],"nice":false,"zero":false}},"text":{"field":"s"}}},
    {"data":{"values":[{"t":-0.274,"v":76,"s":"A"}]},"mark":{"type":"text","align":"center","baseline":"middle","fontSize":22,"fontWeight":"bold"},"encoding":{
     "x":{"field":"t","type":"quantitative","scale":{"domain":[0,1],"nice":false,"zero":false}},
     "y":{"field":"v","type":"quantitative","scale":{"domain":[-100,0],"range":[40,0],"nice":false,"zero":false}},"text":{"field":"s"}}}
   ]},
   {"layer":[
    {"data":{"name":"Acap"},"mark":{"type":"line","strokeWidth":1.5},"encoding":{
     "x":{"field":"t","type":"quantitative","scale":{"domain":[0,1],"nice":false,"zero":false},"axis":{"values":[0,0.2,0.4,0.6,0.8,1],"tickCount":100,"labelOverlap":false,"format":".1f","labelExpr":"indexof([0,0.4,0.8],datum.value)>=0?datum.label:''","labelFontSize":{"condition":{"test":"indexof([0,0.4,0.8],datum.value)>=0","value":17},"value":0},"tickSize":{"condition":{"test":"indexof([0,0.4,0.8],datum.value)>=0","value":7},"value":4},"offset":-32,"title":"time (s)"}},
     "y":{"field":"v","type":"quantitative","scale":{"domain":[-6,120],"range":[190,70],"nice":false,"zero":false},"axis":{"orient":"left","values":[0,20,40,60,80,100,120],"tickCount":100,"format":"d","labelOverlap":false,"labelExpr":"datum.value%40==0?datum.label:''","labelFontSize":{"condition":{"test":"datum.value%40==0","value":17},"value":0},"tickSize":{"condition":{"test":"datum.value%40==0","value":7},"value":4},"offset":13,"title":"ΔCₘ (pF)"}},
     "detail":{"field":"s"},
     "color":{"field":"g","type":"nominal","scale":{"domain":["control","dynasore"],"range":["#151515","#ec1c24"]},"legend":null}}},
    {"data":{"values":[{"t":0.533,"v":112.6,"s":"dynasore","g":"dynasore"},{"t":0.681,"v":47.8,"s":"control","g":"control"}]},"mark":{"type":"text","align":"left","baseline":"middle","fontSize":18},"encoding":{
     "x":{"field":"t","type":"quantitative","scale":{"domain":[0,1],"nice":false,"zero":false}},
     "y":{"field":"v","type":"quantitative","scale":{"domain":[-6,120],"range":[190,70],"nice":false,"zero":false}},
     "text":{"field":"s"},
     "color":{"field":"g","type":"nominal","scale":{"domain":["control","dynasore"],"range":["#151515","#ec1c24"]},"legend":null}}}
   ]}
  ]},
 {"width":247,"height":226,
  "resolve":{"scale":{"y":"independent"},"axis":{"y":"independent"}},
  "layer":[
   {"layer":[
    {"data":{"name":"vBr"},"mark":{"type":"rect","color":"#151515"},"encoding":{
     "x":{"field":"t0","type":"quantitative","scale":{"domain":[0,10],"nice":false,"zero":false}},"x2":{"field":"t1"},
     "y":{"field":"v0","type":"quantitative","scale":{"domain":[-100,0],"range":[40,0],"nice":false,"zero":false},"axis":{"orient":"left","values":[-100,0],"tickCount":100,"format":"d","labelOverlap":false,"labelExpr":"replace(datum.label,'−','-')","offset":12,"title":"Vₘ (mV)"}},"y2":{"field":"v1"}}},
    {"data":{"name":"vBl"},"mark":{"type":"line","color":"#151515","strokeWidth":1.5},"encoding":{
     "x":{"field":"t","type":"quantitative","scale":{"domain":[0,10],"nice":false,"zero":false}},
     "y":{"field":"v","type":"quantitative","scale":{"domain":[-100,0],"range":[40,0],"nice":false,"zero":false}},"order":{"field":"i"}}},
    {"data":{"values":[{"t":2.52,"v":28,"t2":1.88,"v2":-0.5}]},"mark":{"type":"rule","color":"#151515","strokeWidth":1.3},"encoding":{
     "x":{"field":"t","type":"quantitative","scale":{"domain":[0,10],"nice":false,"zero":false}},"x2":{"field":"t2"},
     "y":{"field":"v","type":"quantitative","scale":{"domain":[-100,0],"range":[40,0],"nice":false,"zero":false}},"y2":{"field":"v2"}}},
    {"data":{"values":[{"t":1.88,"v":-0.5}]},"mark":{"type":"point","shape":"wedge","angle":234,"size":60,"filled":true,"opacity":1,"color":"#151515"},"encoding":{
     "x":{"field":"t","type":"quantitative","scale":{"domain":[0,10],"nice":false,"zero":false}},
     "y":{"field":"v","type":"quantitative","scale":{"domain":[-100,0],"range":[40,0],"nice":false,"zero":false}}}},
    {"data":{"values":[{"t":2.64,"v":28,"s":"1 s"}]},"mark":{"type":"text","align":"left","baseline":"middle","fontSize":18},"encoding":{
     "x":{"field":"t","type":"quantitative","scale":{"domain":[0,10],"nice":false,"zero":false}},
     "y":{"field":"v","type":"quantitative","scale":{"domain":[-100,0],"range":[40,0],"nice":false,"zero":false}},"text":{"field":"s"}}},
    {"data":{"values":[{"t":-2.81,"v":76,"s":"B"}]},"mark":{"type":"text","align":"center","baseline":"middle","fontSize":22,"fontWeight":"bold"},"encoding":{
     "x":{"field":"t","type":"quantitative","scale":{"domain":[0,10],"nice":false,"zero":false}},
     "y":{"field":"v","type":"quantitative","scale":{"domain":[-100,0],"range":[40,0],"nice":false,"zero":false}},"text":{"field":"s"}}}
   ]},
   {"layer":[
    {"data":{"name":"Bcap"},"mark":{"type":"rule","strokeWidth":5,"strokeCap":"round"},"encoding":{
     "x":{"field":"t","type":"quantitative","scale":{"domain":[0,10],"nice":false,"zero":false},"axis":{"values":[0,1,2,3,4,5,6,7,8,9,10],"tickCount":100,"format":"d","labelOverlap":false,"labelExpr":"datum.value%2==0?datum.label:''","labelFontSize":{"condition":{"test":"datum.value%2==0","value":17},"value":0},"tickSize":{"condition":{"test":"datum.value%2==0","value":7},"value":4},"offset":-31,"title":"time (s)"}},
     "x2":{"field":"t2"},
     "y":{"field":"v","type":"quantitative","scale":{"domain":[-0.05,1],"range":[190,70],"nice":false,"zero":false},"axis":{"orient":"left","values":[0,0.2,0.4,0.6,0.8,1],"tickCount":100,"labelOverlap":false,"format":".1f","labelExpr":"indexof([0,0.4,0.8],datum.value)>=0?datum.label:''","labelFontSize":{"condition":{"test":"indexof([0,0.4,0.8],datum.value)>=0","value":17},"value":0},"tickSize":{"condition":{"test":"indexof([0,0.4,0.8],datum.value)>=0","value":7},"value":4},"offset":12,"title":"ΔCₘ (pF)"}},
     "color":{"field":"g","type":"nominal","scale":{"domain":["control","dynasore"],"range":["#151515","#ec1c24"]},"legend":null}}},
    {"data":{"values":[{"t":5.09,"v":0.711,"s":"control","g":"control"},{"t":6.94,"v":0.245,"s":"dynasore","g":"dynasore"}]},"mark":{"type":"text","align":"left","baseline":"middle","fontSize":18},"encoding":{
     "x":{"field":"t","type":"quantitative","scale":{"domain":[0,10],"nice":false,"zero":false}},
     "y":{"field":"v","type":"quantitative","scale":{"domain":[-0.05,1],"range":[190,70],"nice":false,"zero":false}},
     "text":{"field":"s"},
     "color":{"field":"g","type":"nominal","scale":{"domain":["control","dynasore"],"range":["#151515","#ec1c24"]},"legend":null}}}
   ]}
  ]},
 {"width":248,"height":202,"layer":[
  {"data":{"name":"C"},"mark":{"type":"errorbar","ticks":{"size":7},"rule":{"strokeWidth":1.1}},"encoding":{
   "x":{"field":"t","type":"quantitative","scale":{"domain":[0,8],"nice":false,"zero":false},"axis":{"values":[0,1,2,3,4,5,6,7,8],"tickCount":100,"format":"d","labelOverlap":false,"labelExpr":"datum.value%2==0?datum.label:''","labelFontSize":{"condition":{"test":"datum.value%2==0","value":17},"value":0},"tickSize":{"condition":{"test":"datum.value%2==0","value":7},"value":4},"offset":8,"title":"time (s)"}},
   "y":{"field":"v","type":"quantitative","scale":{"domain":[-6,400],"nice":false,"zero":false},"axis":{"values":[0,50,100,150,200,250,300,350,400],"tickCount":100,"format":"d","labelOverlap":false,"labelExpr":"datum.value%100==0?datum.label:''","labelFontSize":{"condition":{"test":"datum.value%100==0","value":17},"value":0},"tickSize":{"condition":{"test":"datum.value%100==0","value":7},"value":4},"offset":13,"title":"ΔCₘ (fF)"}},
   "yError":{"field":"e"},
   "color":{"field":"g","type":"nominal","scale":{"domain":["control","dynasore"],"range":["#151515","#ec1c24"]},"legend":null}}},
  {"data":{"name":"C"},"mark":{"type":"circle","size":60,"opacity":1},"encoding":{
   "x":{"field":"t","type":"quantitative","scale":{"domain":[0,8],"nice":false,"zero":false}},
   "y":{"field":"v","type":"quantitative","scale":{"domain":[-6,400],"nice":false,"zero":false}},
   "color":{"field":"g","type":"nominal","scale":{"domain":["control","dynasore"],"range":["#151515","#ec1c24"]},"legend":null}}},
  {"data":{"values":[{"t":0.235,"v":384.5,"g":"control"},{"t":0.235,"v":333.7,"g":"dynasore"}]},"mark":{"type":"circle","size":150,"opacity":1},"encoding":{
   "x":{"field":"t","type":"quantitative","scale":{"domain":[0,8],"nice":false,"zero":false}},
   "y":{"field":"v","type":"quantitative","scale":{"domain":[-6,400],"nice":false,"zero":false}},
   "color":{"field":"g","type":"nominal","scale":{"domain":["control","dynasore"],"range":["#151515","#ec1c24"]},"legend":null}}},
  {"data":{"values":[{"t":0.61,"v":384.5,"s":"control","g":"control"},{"t":0.61,"v":333.7,"s":"dynasore","g":"dynasore"}]},"mark":{"type":"text","align":"left","baseline":"middle","fontSize":18},"encoding":{
   "x":{"field":"t","type":"quantitative","scale":{"domain":[0,8],"nice":false,"zero":false}},
   "y":{"field":"v","type":"quantitative","scale":{"domain":[-6,400],"nice":false,"zero":false}},
   "text":{"field":"s"},
   "color":{"field":"g","type":"nominal","scale":{"domain":["control","dynasore"],"range":["#151515","#ec1c24"]},"legend":null}}},
  {"data":{"values":[{"t":-2.24,"v":456,"s":"C"}]},"mark":{"type":"text","align":"center","baseline":"middle","fontSize":22,"fontWeight":"bold"},"encoding":{
   "x":{"field":"t","type":"quantitative","scale":{"domain":[0,8],"nice":false,"zero":false}},
   "y":{"field":"v","type":"quantitative","scale":{"domain":[-6,400],"nice":false,"zero":false}},"text":{"field":"s"}}},
  {"data":{"values":[{"t":7.11,"v":13,"s":"RRP"}]},"mark":{"type":"text","align":"center","baseline":"middle","fontSize":20,"fontWeight":"bold","color":"#2a2a2a"},"encoding":{
   "x":{"field":"t","type":"quantitative","scale":{"domain":[0,8],"nice":false,"zero":false}},
   "y":{"field":"v","type":"quantitative","scale":{"domain":[-6,400],"nice":false,"zero":false}},"text":{"field":"s"}}}
 ]},
 {"width":247,"height":202,
  "resolve":{"scale":{"x":"independent","y":"independent"},"axis":{"x":"independent","y":"independent"}},
  "layer":[
  {"layer":[
   {"data":{"name":"D"},"mark":{"type":"errorbar","ticks":{"size":7},"rule":{"strokeWidth":1.1}},"encoding":{
    "x":{"field":"t","type":"quantitative","scale":{"domain":[0,45],"nice":false,"zero":false},"axis":{"orient":"bottom","values":[0,5,10,15,20,25,30,35,40,45],"tickCount":100,"format":"d","labelOverlap":false,"labelExpr":"datum.value%10==0?datum.label:''","labelFontSize":{"condition":{"test":"datum.value%10==0","value":17},"value":0},"tickSize":{"condition":{"test":"datum.value%10==0","value":7},"value":4},"offset":8,"title":"time (s)"}},
    "y":{"field":"v","type":"quantitative","scale":{"domain":[-0.06,4],"nice":false,"zero":false},"axis":{"orient":"left","values":[0,0.5,1,1.5,2,2.5,3,3.5,4],"tickCount":100,"labelOverlap":false,"format":".0f","labelExpr":"datum.value%1==0?datum.label:''","labelFontSize":{"condition":{"test":"datum.value%1==0","value":17},"value":0},"tickSize":{"condition":{"test":"datum.value%1==0","value":7},"value":4},"offset":12,"title":"ΔCₘ (pF)"}},
    "yError":{"field":"e"},
    "color":{"field":"g","type":"nominal","scale":{"domain":["control","dynasore"],"range":["#151515","#ec1c24"]},"legend":null}}},
   {"data":{"name":"D"},"mark":{"type":"circle","size":60,"opacity":1},"encoding":{
    "x":{"field":"t","type":"quantitative","scale":{"domain":[0,45],"nice":false,"zero":false}},
    "y":{"field":"v","type":"quantitative","scale":{"domain":[-0.06,4],"nice":false,"zero":false}},
    "color":{"field":"g","type":"nominal","scale":{"domain":["control","dynasore"],"range":["#151515","#ec1c24"]},"legend":null}}},
   {"data":{"values":[{"t":32.25,"v":4.563,"g":"control"},{"t":32.25,"v":4.094,"g":"dynasore"}]},"mark":{"type":"circle","size":150,"opacity":1},"encoding":{
    "x":{"field":"t","type":"quantitative","scale":{"domain":[0,45],"nice":false,"zero":false}},
    "y":{"field":"v","type":"quantitative","scale":{"domain":[-0.06,4],"nice":false,"zero":false}},
    "color":{"field":"g","type":"nominal","scale":{"domain":["control","dynasore"],"range":["#151515","#ec1c24"]},"legend":null}}},
   {"data":{"values":[{"t":33.9,"v":4.563,"s":"control","g":"control"},{"t":33.9,"v":4.094,"s":"dynasore","g":"dynasore"}]},"mark":{"type":"text","align":"left","baseline":"middle","fontSize":18},"encoding":{
    "x":{"field":"t","type":"quantitative","scale":{"domain":[0,45],"nice":false,"zero":false}},
    "y":{"field":"v","type":"quantitative","scale":{"domain":[-0.06,4],"nice":false,"zero":false}},
    "text":{"field":"s"},
    "color":{"field":"g","type":"nominal","scale":{"domain":["control","dynasore"],"range":["#151515","#ec1c24"]},"legend":null}}},
   {"data":{"values":[{"t":-12.9,"v":4.54,"s":"D"}]},"mark":{"type":"text","align":"center","baseline":"middle","fontSize":22,"fontWeight":"bold"},"encoding":{
    "x":{"field":"t","type":"quantitative","scale":{"domain":[0,45],"nice":false,"zero":false}},
    "y":{"field":"v","type":"quantitative","scale":{"domain":[-0.06,4],"nice":false,"zero":false}},"text":{"field":"s"}}}
  ]},
  {"layer":[
   {"data":{"name":"Di"},"mark":{"type":"errorbar","ticks":{"size":4,"opacity":0.45},"rule":{"strokeWidth":0.8,"opacity":0.45}},"encoding":{
    "x":{"field":"t","type":"quantitative","scale":{"domain":[0,45],"range":[11.6,115.3],"nice":false,"zero":false},"axis":{"orient":"bottom","values":[0,10,20,30,40],"tickCount":100,"format":"d","labelOverlap":false,"labelExpr":"datum.value%20==0?datum.label:''","labelFontSize":{"condition":{"test":"datum.value%20==0","value":15},"value":0},"tickSize":{"condition":{"test":"datum.value%20==0","value":4},"value":2.5},"tickWidth":1.2,"domainWidth":1.3,"labelPadding":1,"offset":-156.7,"title":null}},
    "y":{"field":"v","type":"quantitative","scale":{"domain":[0,3],"range":[44.3,-38],"nice":false,"zero":false},"axis":{"orient":"left","values":[0,1,2,3],"tickCount":100,"labelOverlap":false,"format":"d","tickSize":4,"tickWidth":1.2,"domainWidth":1.3,"labelFontSize":15,"labelPadding":1,"offset":-6,"title":null}},
    "yError":{"field":"e"},
    "color":{"field":"g","type":"nominal","scale":{"domain":["control","dynasore"],"range":["#151515","#ec1c24"]},"legend":null}}},
   {"data":{"name":"Di"},"mark":{"type":"circle","size":14,"opacity":1},"encoding":{
    "x":{"field":"t","type":"quantitative","scale":{"domain":[0,45],"range":[11.6,115.3],"nice":false,"zero":false}},
    "y":{"field":"v","type":"quantitative","scale":{"domain":[0,3],"range":[44.3,-38],"nice":false,"zero":false}},
    "color":{"field":"g","type":"nominal","scale":{"domain":["control","dynasore"],"range":["#151515","#ec1c24"]},"legend":null}}},
   {"data":{"values":[{"t":-0.6,"v":3.0,"s":"pF"}]},"mark":{"type":"text","align":"left","baseline":"middle","fontSize":16},"encoding":{
    "x":{"field":"t","type":"quantitative","scale":{"domain":[0,45],"range":[11.6,115.3],"nice":false,"zero":false}},
    "y":{"field":"v","type":"quantitative","scale":{"domain":[0,3],"range":[44.3,-38],"nice":false,"zero":false}},"text":{"field":"s"}}},
   {"data":{"values":[{"t":18.7,"v":0.39,"s":"time (s)"}]},"mark":{"type":"text","align":"center","baseline":"middle","fontSize":15},"encoding":{
    "x":{"field":"t","type":"quantitative","scale":{"domain":[0,45],"range":[11.6,115.3],"nice":false,"zero":false}},
    "y":{"field":"v","type":"quantitative","scale":{"domain":[0,3],"range":[44.3,-38],"nice":false,"zero":false}},"text":{"field":"s"}}}
  ]}
 ]},
 {"width":248,"height":199,"layer":[
  {"data":{"name":"E"},"mark":{"type":"errorbar","ticks":{"size":7},"rule":{"strokeWidth":1.1}},"encoding":{
   "x":{"field":"t","type":"quantitative","scale":{"domain":[0,8],"nice":false,"zero":false},"axis":{"values":[0,1,2,3,4,5,6,7,8],"tickCount":100,"format":"d","labelOverlap":false,"labelExpr":"datum.value%2==0?datum.label:''","labelFontSize":{"condition":{"test":"datum.value%2==0","value":17},"value":0},"tickSize":{"condition":{"test":"datum.value%2==0","value":7},"value":4},"offset":10,"title":"time (s)"}},
   "y":{"field":"v","type":"quantitative","scale":{"domain":[-5,20],"nice":false,"zero":false},"axis":{"values":[-5,0,5,10,15,20],"tickCount":100,"format":"d","labelOverlap":false,"labelExpr":"datum.value%10==0?datum.label:''","labelFontSize":{"condition":{"test":"datum.value%10==0","value":17},"value":0},"tickSize":{"condition":{"test":"datum.value%10==0","value":7},"value":4},"offset":13,"title":"ΔCₘ (fF)"}},
   "yError":{"field":"e"},
   "color":{"field":"g","type":"nominal","scale":{"domain":["control","dynasore"],"range":["#151515","#ec1c24"]},"legend":null}}},
  {"data":{"name":"E"},"mark":{"type":"circle","size":65,"opacity":1},"encoding":{
   "x":{"field":"t","type":"quantitative","scale":{"domain":[0,8],"nice":false,"zero":false}},
   "y":{"field":"v","type":"quantitative","scale":{"domain":[-5,20],"nice":false,"zero":false}},
   "color":{"field":"g","type":"nominal","scale":{"domain":["control","dynasore"],"range":["#151515","#ec1c24"]},"legend":null}}},
  {"data":{"values":[{"t":-2.26,"v":22.95,"s":"E"}]},"mark":{"type":"text","align":"center","baseline":"middle","fontSize":22,"fontWeight":"bold"},"encoding":{
   "x":{"field":"t","type":"quantitative","scale":{"domain":[0,8],"nice":false,"zero":false}},
   "y":{"field":"v","type":"quantitative","scale":{"domain":[-5,20],"nice":false,"zero":false}},"text":{"field":"s"}}},
  {"data":{"values":[{"t":7.11,"v":-4.3,"s":"RRP"}]},"mark":{"type":"text","align":"center","baseline":"middle","fontSize":20,"fontWeight":"bold","color":"#2a2a2a"},"encoding":{
   "x":{"field":"t","type":"quantitative","scale":{"domain":[0,8],"nice":false,"zero":false}},
   "y":{"field":"v","type":"quantitative","scale":{"domain":[-5,20],"nice":false,"zero":false}},"text":{"field":"s"}}}
 ]},
 {"width":247,"height":200,"layer":[
  {"data":{"name":"F"},"mark":{"type":"errorbar","ticks":{"size":7},"rule":{"strokeWidth":1.1}},"encoding":{
   "x":{"field":"t","type":"quantitative","scale":{"domain":[0,45],"nice":false,"zero":false},"axis":{"values":[0,5,10,15,20,25,30,35,40,45],"tickCount":100,"format":"d","labelOverlap":false,"labelExpr":"datum.value%10==0?datum.label:''","labelFontSize":{"condition":{"test":"datum.value%10==0","value":17},"value":0},"tickSize":{"condition":{"test":"datum.value%10==0","value":7},"value":4},"offset":12,"title":"time (s)"}},
   "y":{"field":"v","type":"quantitative","scale":{"domain":[-50,250],"nice":false,"zero":false},"axis":{"values":[-50,0,50,100,150,200,250],"tickCount":100,"format":"d","labelOverlap":false,"labelExpr":"datum.value%100==0?datum.label:''","labelFontSize":{"condition":{"test":"datum.value%100==0","value":17},"value":0},"tickSize":{"condition":{"test":"datum.value%100==0","value":7},"value":4},"offset":12,"title":"ΔCₘ (fF)"}},
   "yError":{"field":"e"},
   "color":{"field":"g","type":"nominal","scale":{"domain":["control","dynasore"],"range":["#151515","#ec1c24"]},"legend":null}}},
  {"data":{"values":[{"t":-2.3,"t2":45,"v":0}]},"mark":{"type":"rule","color":"#151515","strokeWidth":1.5,"strokeDash":[6,4]},"encoding":{
   "x":{"field":"t","type":"quantitative","scale":{"domain":[0,45],"nice":false,"zero":false}},
   "x2":{"field":"t2"},
   "y":{"field":"v","type":"quantitative","scale":{"domain":[-50,250],"nice":false,"zero":false}}}},
  {"data":{"name":"F"},"mark":{"type":"circle","size":65,"opacity":1},"encoding":{
   "x":{"field":"t","type":"quantitative","scale":{"domain":[0,45],"nice":false,"zero":false}},
   "y":{"field":"v","type":"quantitative","scale":{"domain":[-50,250],"nice":false,"zero":false}},
   "color":{"field":"g","type":"nominal","scale":{"domain":["control","dynasore"],"range":["#151515","#ec1c24"]},"legend":null}}},
  {"data":{"values":[{"t":-13.2,"v":285,"s":"F"}]},"mark":{"type":"text","align":"center","baseline":"middle","fontSize":22,"fontWeight":"bold"},"encoding":{
   "x":{"field":"t","type":"quantitative","scale":{"domain":[0,45],"nice":false,"zero":false}},
   "y":{"field":"v","type":"quantitative","scale":{"domain":[-50,250],"nice":false,"zero":false}},"text":{"field":"s"}}},
  {"data":{"values":[{"t":35.85,"v":-44.8,"s":"SRP"}]},"mark":{"type":"text","align":"center","baseline":"middle","fontSize":20,"fontWeight":"bold","color":"#2a2a2a"},"encoding":{
   "x":{"field":"t","type":"quantitative","scale":{"domain":[0,45],"nice":false,"zero":false}},
   "y":{"field":"v","type":"quantitative","scale":{"domain":[-50,250],"nice":false,"zero":false}},"text":{"field":"s"}}}
 ]},
 {"width":248,"height":193,"layer":[
  {"data":{"name":"G"},"mark":{"type":"errorbar","ticks":{"size":7},"rule":{"strokeWidth":1.1}},"encoding":{
   "x":{"field":"t","type":"quantitative","scale":{"domain":[0,8],"nice":false,"zero":false},"axis":{"values":[0,1,2,3,4,5,6,7,8],"tickCount":100,"format":"d","labelOverlap":false,"labelExpr":"datum.value%2==0?datum.label:''","labelFontSize":{"condition":{"test":"datum.value%2==0","value":17},"value":0},"tickSize":{"condition":{"test":"datum.value%2==0","value":7},"value":4},"offset":18,"title":"time (s)"}},
   "y":{"field":"v","type":"quantitative","scale":{"domain":[-10,50],"nice":false,"zero":false},"axis":{"values":[-10,-5,0,5,10,15,20,25,30,35,40,45,50],"tickCount":100,"format":"d","labelOverlap":false,"labelExpr":"datum.value%10==0?replace(datum.label,'−','-'):''","labelFontSize":{"condition":{"test":"datum.value%10==0","value":17},"value":0},"tickSize":{"condition":{"test":"datum.value%10==0","value":7},"value":4},"offset":13,"title":"ΔCₘ (fF)"}},
   "yError":{"field":"e"},
   "color":{"field":"g","type":"nominal","scale":{"domain":["control","dynasore"],"range":["#151515","#ec1c24"]},"legend":null}}},
  {"data":{"name":"G"},"mark":{"type":"circle","size":65,"opacity":1},"encoding":{
   "x":{"field":"t","type":"quantitative","scale":{"domain":[0,8],"nice":false,"zero":false}},
   "y":{"field":"v","type":"quantitative","scale":{"domain":[-10,50],"nice":false,"zero":false}},
   "color":{"field":"g","type":"nominal","scale":{"domain":["control","dynasore"],"range":["#151515","#ec1c24"]},"legend":null}}},
  {"data":{"values":[{"t":-2.24,"v":57.8,"s":"G"}]},"mark":{"type":"text","align":"center","baseline":"middle","fontSize":22,"fontWeight":"bold"},"encoding":{
   "x":{"field":"t","type":"quantitative","scale":{"domain":[0,8],"nice":false,"zero":false}},
   "y":{"field":"v","type":"quantitative","scale":{"domain":[-10,50],"nice":false,"zero":false}},"text":{"field":"s"}}},
  {"data":{"values":[{"t":0.69,"v":-9.8,"s":"RRP"}]},"mark":{"type":"text","align":"center","baseline":"middle","fontSize":20,"fontWeight":"bold","color":"#2a2a2a"},"encoding":{
   "x":{"field":"t","type":"quantitative","scale":{"domain":[0,8],"nice":false,"zero":false}},
   "y":{"field":"v","type":"quantitative","scale":{"domain":[-10,50],"nice":false,"zero":false}},"text":{"field":"s"}}}
 ]},
 {"width":247,"height":200,"layer":[
  {"data":{"name":"H"},"mark":{"type":"errorbar","ticks":{"size":7},"rule":{"strokeWidth":1.1}},"encoding":{
   "x":{"field":"t","type":"quantitative","scale":{"domain":[0,45],"nice":false,"zero":false},"axis":{"values":[0,5,10,15,20,25,30,35,40,45],"tickCount":100,"format":"d","labelOverlap":false,"labelExpr":"datum.value%10==0?datum.label:''","labelFontSize":{"condition":{"test":"datum.value%10==0","value":17},"value":0},"tickSize":{"condition":{"test":"datum.value%10==0","value":7},"value":4},"offset":12,"title":"time (s)"}},
   "y":{"field":"v","type":"quantitative","scale":{"domain":[-100,700],"nice":false,"zero":false},"axis":{"values":[-100,0,100,200,300,400,500,600,700],"tickCount":100,"format":"d","labelOverlap":false,"labelExpr":"datum.value%200==0?datum.label:''","labelFontSize":{"condition":{"test":"datum.value%200==0","value":17},"value":0},"tickSize":{"condition":{"test":"datum.value%200==0","value":7},"value":4},"offset":12,"title":"ΔCₘ (fF)"}},
   "yError":{"field":"e"},
   "color":{"field":"g","type":"nominal","scale":{"domain":["control","dynasore"],"range":["#151515","#ec1c24"]},"legend":null}}},
  {"data":{"values":[{"t":-2.3,"t2":10.5,"v":0}]},"mark":{"type":"rule","color":"#151515","strokeWidth":1.5,"strokeDash":[6,4]},"encoding":{
   "x":{"field":"t","type":"quantitative","scale":{"domain":[0,45],"nice":false,"zero":false}},
   "x2":{"field":"t2"},
   "y":{"field":"v","type":"quantitative","scale":{"domain":[-100,700],"nice":false,"zero":false}}}},
  {"data":{"name":"H"},"mark":{"type":"circle","size":65,"opacity":1},"encoding":{
   "x":{"field":"t","type":"quantitative","scale":{"domain":[0,45],"nice":false,"zero":false}},
   "y":{"field":"v","type":"quantitative","scale":{"domain":[-100,700],"nice":false,"zero":false}},
   "color":{"field":"g","type":"nominal","scale":{"domain":["control","dynasore"],"range":["#151515","#ec1c24"]},"legend":null}}},
  {"data":{"values":[{"t":-12.8,"v":792,"s":"H"}]},"mark":{"type":"text","align":"center","baseline":"middle","fontSize":22,"fontWeight":"bold"},"encoding":{
   "x":{"field":"t","type":"quantitative","scale":{"domain":[0,45],"nice":false,"zero":false}},
   "y":{"field":"v","type":"quantitative","scale":{"domain":[-100,700],"nice":false,"zero":false}},"text":{"field":"s"}}},
  {"data":{"values":[{"t":4.35,"v":-74,"s":"SRP"}]},"mark":{"type":"text","align":"center","baseline":"middle","fontSize":20,"fontWeight":"bold","color":"#2a2a2a"},"encoding":{
   "x":{"field":"t","type":"quantitative","scale":{"domain":[0,45],"nice":false,"zero":false}},
   "y":{"field":"v","type":"quantitative","scale":{"domain":[-100,700],"nice":false,"zero":false}},"text":{"field":"s"}}}
 ]}
]
}
